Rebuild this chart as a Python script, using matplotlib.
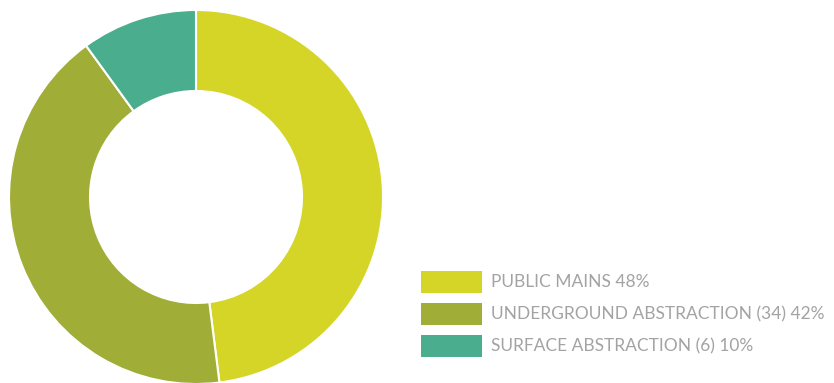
import matplotlib
matplotlib.use("Agg")
import matplotlib.pyplot as plt
from matplotlib.patches import Rectangle

labels = ["PUBLIC MAINS 48%", "UNDERGROUND ABSTRACTION (34) 42%", "SURFACE ABSTRACTION (6) 10%"]
values = [48, 42, 10]
colors = ["#D4D527", "#A0AD36", "#4AAD8E"]

W, H = 834, 383
fig = plt.figure(figsize=(W / 100, H / 100), dpi=100)

cx, cy, r = 196, 197, 187
ax = fig.add_axes([(cx - r) / W, (H - cy - r) / H, 2 * r / W, 2 * r / H])
ax.pie(values, colors=colors, startangle=90, counterclock=False,
       wedgeprops=dict(width=1 - 106 / 187, edgecolor="white", linewidth=1.5))
ax.set_xlim(-1, 1)
ax.set_ylim(-1, 1)
ax.set_aspect("equal")
ax.axis("off")

row_y = [282, 314, 346]
for lab, col, yy in zip(labels, colors, row_y):
    fig.patches.append(Rectangle((421 / W, (H - yy - 11) / H), 61 / W, 22 / H,
                                 transform=fig.transFigure, facecolor=col, edgecolor="none"))
    fig.text(491 / W, (H - yy) / H, lab, color="#a3a3a3", fontsize=12.5,
             family="Lato", fontweight="normal", va="center", ha="left")

fig.savefig("out.png", dpi=100)
